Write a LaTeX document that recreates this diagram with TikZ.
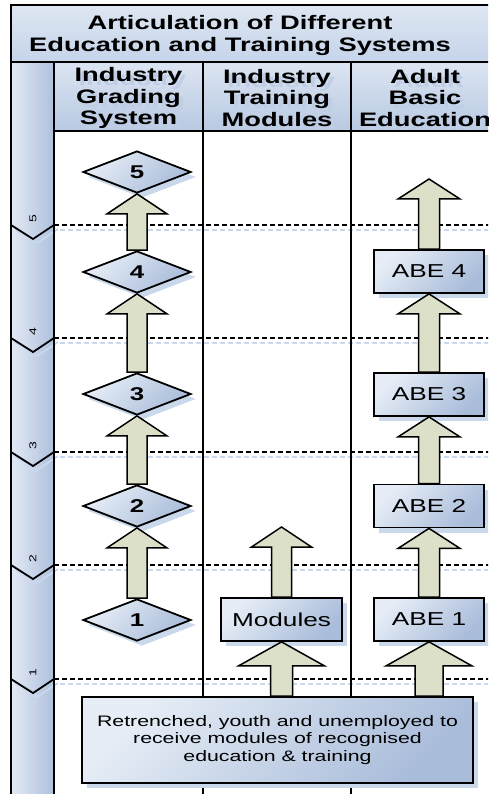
\documentclass[tikz,border=0pt]{standalone}
\usepackage{fontspec}
\setmainfont{Liberation Sans}[FakeStretch=1.4]
\usetikzlibrary{shapes.geometric,calc,shadows}

\definecolor{bandtop}{HTML}{DDE6F2}
\definecolor{bandbot}{HTML}{C6D4EA}
\definecolor{headtop}{HTML}{DCE5F2}
\definecolor{headbot}{HTML}{B8C9E2}
\definecolor{boxlight}{HTML}{E6EDF6}
\definecolor{boxdark}{HTML}{A9BCDA}
\definecolor{stripl}{HTML}{E2E9F4}
\definecolor{stripr}{HTML}{AEC0DD}
\definecolor{shadowblue}{HTML}{CAD8EC}
\definecolor{arrowfill}{HTML}{DDE0C9}
\definecolor{ghost}{HTML}{BFCEE5}

\tikzset{
  frameline/.style={line width=2.6pt},
  shapeshadow/.style={drop shadow={shadow xshift=5pt, shadow yshift=-5pt, fill=shadowblue, opacity=1}},
  levelshape/.style={draw, line width=1.8pt, top color=boxlight, bottom color=boxdark, shading angle=45, shapeshadow},
  grade/.style={diamond, aspect=2.6, minimum width=108pt, minimum height=42pt, inner sep=0pt, levelshape,
    font=\bfseries\fontsize{18.5}{20}\selectfont},
  unitbox/.style={rectangle, minimum height=43pt, inner sep=0pt, levelshape,
    font=\fontsize{18.7}{20}\selectfont},
  headtext/.style={align=center, font=\bfseries\fontsize{19.5}{21.5}\selectfont},
  phaseline/.style={dash pattern=on 5pt off 3pt, line width=1.5pt},
  phasenum/.style={rotate=90, font=\fontsize{10}{10}\selectfont, inner sep=0pt},
  blockarrow/.style={draw, fill=arrowfill, line width=1.5pt, line join=miter},
}

% thick up arrow from a base point to a tip point:
% #1 base, #2 tip, #3 shaft half width, #4 head half width, #5 head length
\newcommand\liftarrow[5]{%
  \path[blockarrow] let \p1=(#1), \p2=(#2) in
    (\x1-#3,\y1) -- (\x1-#3,\y2-#5) -- (\x1-#4,\y2-#5) -- (\x1,\y2)
    -- (\x1+#4,\y2-#5) -- (\x1+#3,\y2-#5) -- (\x1+#3,\y1) -- cycle;}

\begin{document}
\begin{tikzpicture}[x=1pt, y=-1pt]
\useasboundingbox (0,0) rectangle (488,794);
\clip (0,0) rectangle (488,794);
\fill[white] (0,0) rectangle (488,794);

% bands
\shade[top color=bandtop, bottom color=bandbot] (11,5) rectangle (520,62);
\shade[top color=headtop, bottom color=headbot] (54,62) rectangle (520,131);
\shade[left color=stripl, right color=stripr] (11,62) rectangle (54,800);

% title
\node[headtext] (title) at (240,35.5) {Articulation of Different\\Education and Training Systems};

% column headings with their soft shadow
\node[headtext, ghost] (g1) at (132.5,102) {Industry\\Grading\\System};
\node[headtext, ghost] (g2) at (281,102) {Industry\\Training\\Modules};
\node[headtext, ghost] (g3) at (429,102) {Adult\\Basic\\Education};
\node[headtext] (h1) at (128.5,98) {Industry\\Grading\\System};
\node[headtext] (h2) at (277,98) {Industry\\Training\\Modules};
\node[headtext] (h3) at (425,98) {Adult\\Basic\\Education};

% level boundaries
\foreach \yy/\n in {225/5,338/4,452/3,565/2,679/1} {
  \draw[phaseline, shadowblue] (60,\yy+5) -- (500,\yy+5);
  \draw[shadowblue, line width=1.8pt] (15,\yy+4) -- (37,\yy+18) -- (58,\yy+4);
  \draw[phaseline] (54,\yy) -- (500,\yy);
  \draw[line width=1.8pt, line join=miter] (11,\yy) -- (33,\yy+14) -- (54,\yy);
  \node[phasenum] (p\n) at (33,\yy-6) {\n};
}

% frame
\draw[frameline] (11,800) -- (11,5) -- (520,5);
\draw[frameline] (11,62) -- (520,62);
\draw[frameline] (54,131) -- (520,131);
\draw[frameline] (54,62) -- (54,800);
\draw[frameline] (203,62) -- (203,800);
\draw[frameline] (351,62) -- (351,800);
\draw[frameline] (499,62) -- (499,800);

% industry grades
\node[grade] (d5) at (137,172) {5};
\node[grade] (d4) at (137,272) {4};
\node[grade] (d3) at (137,394) {3};
\node[grade] (d2) at (137,506) {2};
\node[grade] (d1) at (137,620) {1};

% modules and adult basic education
\node[unitbox, minimum width=121pt] (m) at (281.5,619.5) {Modules};
\node[unitbox, minimum width=110pt] (a4) at (429,271.5) {ABE 4};
\node[unitbox, minimum width=110pt] (a3) at (429,394.5) {ABE 3};
\node[unitbox, minimum width=110pt] (a2) at (429,506) {ABE 2};
\node[unitbox, minimum width=110pt] (a1) at (429,619.5) {ABE 1};
\coordinate (top) at (429,179);

% entry group
\node[levelshape, rectangle, minimum width=391pt, minimum height=86pt, inner sep=0pt, align=center,
  font=\fontsize{15.2}{17.5}\selectfont] (r) at (277.5,740)
  {Retrenched, youth and unemployed to\\receive modules of recognised\\education \& training};

% progression arrows
\liftarrow{d4.north}{d5.south}{10pt}{30pt}{20pt}
\liftarrow{d3.north}{d4.south}{10pt}{30pt}{20pt}
\liftarrow{d2.north}{d3.south}{10pt}{30pt}{20pt}
\liftarrow{d1.north}{d2.south}{10pt}{30pt}{20pt}
\liftarrow{m.north}{282,527}{10pt}{30pt}{20pt}
\liftarrow{a4.north}{top}{10.5pt}{31pt}{20pt}
\liftarrow{a3.north}{a4.south}{10.5pt}{31pt}{20pt}
\liftarrow{a2.north}{a3.south}{10.5pt}{31pt}{20pt}
\liftarrow{a1.north}{a2.south}{10.5pt}{31pt}{20pt}
\liftarrow{m.south |- r.north}{m.south}{11pt}{43pt}{24pt}
\liftarrow{a1.south |- r.north}{a1.south}{14pt}{43pt}{24pt}
\end{tikzpicture}
\end{document}
